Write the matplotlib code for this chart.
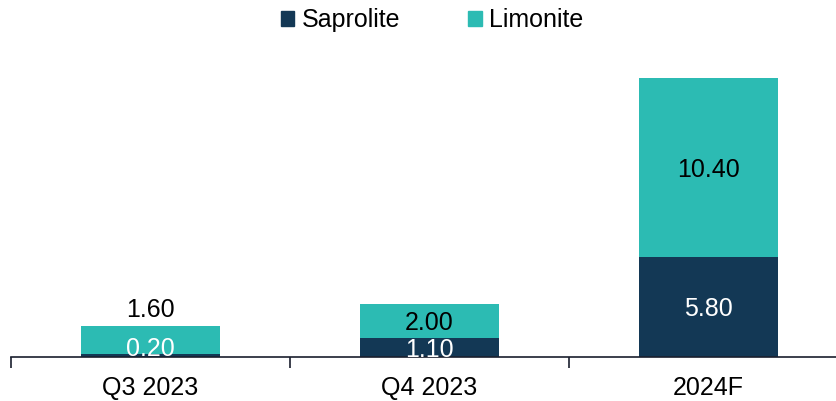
import matplotlib
matplotlib.use("Agg")
import matplotlib.pyplot as plt
from matplotlib.patches import Patch

plt.rcParams['font.family'] = ['Liberation Sans', 'DejaVu Sans']

categories = ["Q3 2023", "Q4 2023", "2024F"]
saprolite = [0.20, 1.10, 5.80]
limonite = [1.60, 2.00, 10.40]

sap_color = "#133855"
lim_color = "#2CBBB3"

W, H = 837, 401
fig = plt.figure(figsize=(W / 100, H / 100), dpi=100)
x0, y0 = 11, 357
ax = fig.add_axes([x0 / W, (H - y0) / H, 837 / W, (y0 - 47) / H])

xs = range(len(categories))
ax.bar(xs, saprolite, width=0.5, color=sap_color, zorder=2)
ax.bar(xs, limonite, width=0.5, bottom=saprolite, color=lim_color, zorder=2)

ax.set_xlim(-0.5, 2.5)
ax.set_ylim(0, 18)

fs = 18
dy = -0.13  # nudge for visual centring of digits
for i, (s, l) in enumerate(zip(saprolite, limonite)):
    if i == 0:
        # thin segments: saprolite label rides just above base, limonite label above the bar
        ax.text(i, 0.58 + dy, f"{s:.2f}", ha="center", va="center", color="white", fontsize=fs, zorder=3)
        ax.text(i, s + l + 1.05 + dy, f"{l:.2f}", ha="center", va="center", color="black", fontsize=fs, zorder=3)
    else:
        ax.text(i, s / 2 + dy, f"{s:.2f}", ha="center", va="center", color="white", fontsize=fs, zorder=3)
        ax.text(i, s + l / 2 + dy, f"{l:.2f}", ha="center", va="center", color="black", fontsize=fs, zorder=3)

for side in ("top", "right", "left"):
    ax.spines[side].set_visible(False)
ax.spines["bottom"].set_color("#1a1f2e")
ax.spines["bottom"].set_linewidth(1.2)
ax.set_yticks([])

ax.set_xticks([-0.5, 0.5, 1.5, 2.5])
ax.set_xticklabels([])
ax.set_xticks(list(xs), minor=True)
ax.set_xticklabels(categories, minor=True, fontsize=fs)
ax.tick_params(axis="x", which="major", length=8, width=1.2, color="#1a1f2e", direction="out")
ax.tick_params(axis="x", which="minor", length=0, pad=14)

handles = [Patch(color=sap_color, label="Saprolite"), Patch(color=lim_color, label="Limonite")]
fig.legend(handles=handles, loc="center", bbox_to_anchor=(432 / W, 1 - 20 / H), ncol=2,
           frameon=False, fontsize=fs, handlelength=0.55, handleheight=0.55,
           handletextpad=0.3, columnspacing=2.7)

fig.savefig("out.png", dpi=100)
